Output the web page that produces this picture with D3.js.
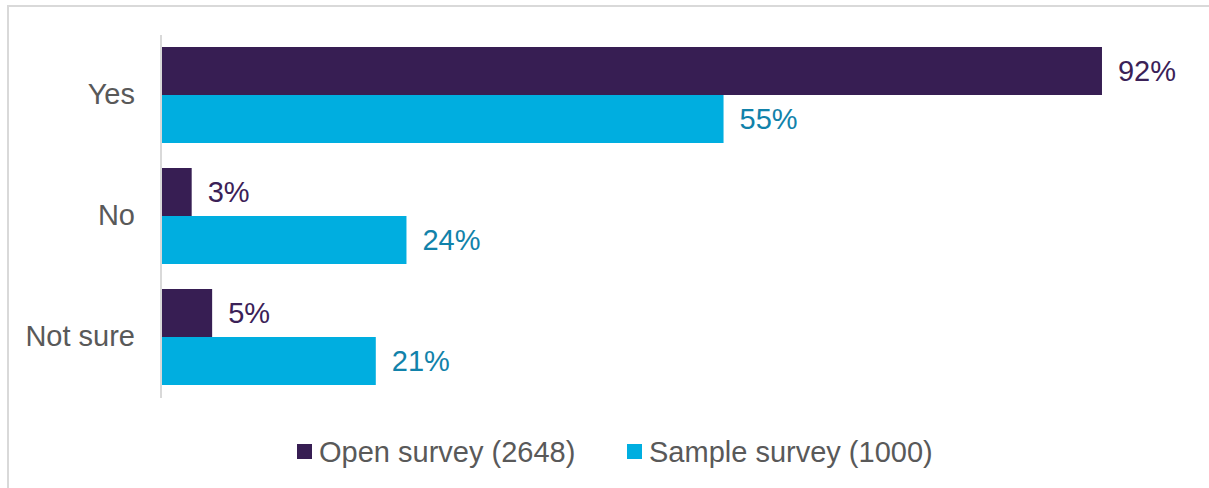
<!DOCTYPE html>
<html>
<head>
<meta charset="utf-8">
<script src="https://cdn.jsdelivr.net/npm/d3@7"></script>
<style>
  html, body { margin: 0; padding: 0; background: #fff; }
  svg { display: block; font-family: "Liberation Sans", Arial, sans-serif; }
</style>
</head>
<body>
<svg id="chart" width="1209" height="488"></svg>
<script>
// Survey responses by category
const categories = ["Yes", "No", "Not sure"];
const seriesNames = ["Open survey (2648)", "Sample survey (1000)"];
const openSurvey = [92, 3, 5];
const sampleSurvey = [55, 24, 21];

const barColors = ["#371E53", "#00AEE0"];
const labelColors = ["#3B2157", "#1182AA"];
const fontSize = 29;

const svg = d3.select("#chart");

// Chart frame
svg.append("path")
  .attr("d", "M8,500 L8,6 L1220,6")
  .attr("fill", "none")
  .attr("stroke", "#D9D9D9")
  .attr("stroke-width", 2);

const x = d3.scaleLinear().domain([0, 100]).range([161, 161 + 1022.8]);
const y = d3.scaleBand().domain(categories).range([35, 397])
  .paddingInner(25 / 121).paddingOuter(12 / 121);
const sub = d3.scaleBand().domain([0, 1]).range([0, y.bandwidth()]);

const data = [openSurvey, sampleSurvey];

const groups = svg.selectAll("g.cat")
  .data(categories)
  .join("g")
  .attr("class", "cat")
  .attr("transform", d => `translate(0,${y(d)})`);

data.forEach((vals, si) => {
  groups.append("rect")
    .attr("x", x(0))
    .attr("y", sub(si))
    .attr("width", (d, i) => x(vals[i]) - x(0))
    .attr("height", sub.bandwidth())
    .attr("fill", barColors[si]);

  groups.append("text")
    .attr("x", (d, i) => x(vals[i]) + 16)
    .attr("y", sub(si) + sub.bandwidth() / 2)
    .attr("dy", "0.35em")
    .attr("fill", labelColors[si])
    .attr("font-size", fontSize)
    .text((d, i) => vals[i] + "%");
});

// Category axis
const yAxis = d3.axisLeft(y).tickSize(0).tickPadding(26);
const ag = svg.append("g").attr("transform", `translate(${x(0)},0)`).call(yAxis);
ag.select(".domain").attr("stroke", "#D9D9D9").attr("stroke-width", 2)
  .attr("d", "M0,35V398");
ag.selectAll("text")
  .attr("font-size", fontSize)
  .attr("fill", "#595959")
  .attr("font-family", "Liberation Sans, Arial, sans-serif");

// Legend
const legendX = [297, 627];
const legend = svg.append("g");
seriesNames.forEach((name, i) => {
  legend.append("rect")
    .attr("x", legendX[i]).attr("y", 444)
    .attr("width", 15).attr("height", 15)
    .attr("fill", barColors[i]);
  legend.append("text")
    .attr("x", legendX[i] + 22).attr("y", 452)
    .attr("dy", "0.35em")
    .attr("font-size", fontSize)
    .attr("fill", "#595959")
    .text(name);
});
</script>
</body>
</html>
